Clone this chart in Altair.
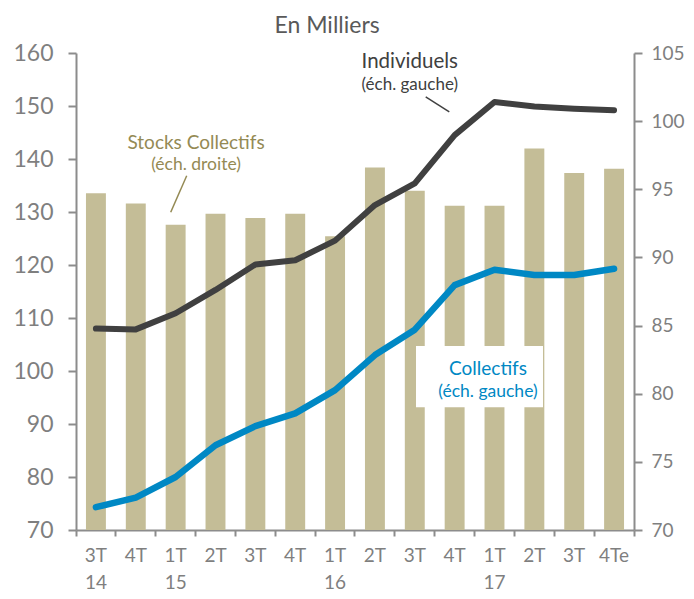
import altair as alt
import pandas as pd

# ---------------- data ----------------
categories = ["3T 14", "4T 14", "1T 15", "2T 15", "3T 15", "4T 15", "1T 16",
              "2T 16", "3T 16", "4T 16", "1T 17", "2T 17", "3T 17", "4Te 17"]
stocks_collectifs = [94.7, 93.95, 92.4, 93.2, 92.9, 93.2, 91.55,
                     96.6, 94.9, 93.8, 93.8, 98.0, 96.2, 96.5]          # right scale
individuels = [108.0, 107.85, 110.9, 115.3, 120.1, 120.9, 124.6,
               131.3, 135.4, 144.5, 150.75, 149.9, 149.5, 149.2]        # left scale
collectifs = [74.3, 76.1, 80.0, 86.0, 89.6, 92.0, 96.4,
              103.0, 107.8, 116.2, 119.1, 118.1, 118.1, 119.3]           # left scale
left_ticks = [70, 80, 90, 100, 110, 120, 130, 140, 150, 160]
right_ticks = [70, 75, 80, 85, 90, 95, 100, 105]
left_domain = [70, 160]
right_domain = [70, 105]

# ---------------- styling ----------------
W, H = 558, 477
FONT = "Lato"
AX_GRAY = "#8c8c8c"
LAB_GRAY = "#7f7f7f"
TAN = "#C4BD97"
OLIVE = "#948A54"
DARK = "#404040"
BLUE = "#0088C4"

df = pd.DataFrame({"cat": categories, "stocks": stocks_collectifs,
                   "ind": individuels, "col": collectifs})

xscale = alt.Scale(type="band", paddingInner=0, paddingOuter=0)
lscale = alt.Scale(domain=left_domain, nice=False, zero=False)
rscale = alt.Scale(domain=right_domain, nice=False, zero=False)

label_expr = ("isValid(datum.value) ? ((split(datum.value, ' ')[0] == '1T' || datum.value == '3T 14') "
              "? split(datum.value, ' ') : split(datum.value, ' ')[0]) : ''")

x_axis = alt.Axis(
    title=None, bandPosition=1, tickExtra=True,
    labelExpr=label_expr, labelAngle=0, labelFont=FONT, labelFontSize=19,
    labelColor=LAB_GRAY, labelLineHeight=27, labelBaseline="top", labelPadding=10,
    domainColor=AX_GRAY, domainWidth=2, tickColor=AX_GRAY, tickWidth=2, tickSize=6,
)

left_axis = alt.Axis(
    orient="left", title=None, values=left_ticks, grid=False,
    labelFont=FONT, labelFontSize=23, labelColor=LAB_GRAY, labelPadding=15,
    domainColor=AX_GRAY, domainWidth=2, tickColor=AX_GRAY, tickWidth=2, tickSize=8)

right_axis = alt.Axis(
    orient="right", title=None, values=right_ticks, grid=False,
    labelFont=FONT, labelFontSize=19, labelColor=LAB_GRAY, labelPadding=9,
    domainColor=AX_GRAY, domainWidth=2, tickColor=AX_GRAY, tickWidth=2, tickSize=8)


def xenc():
    return alt.X("cat:N", sort=categories, scale=xscale, axis=x_axis)


def yl(field):
    return alt.Y(field, scale=lscale, axis=left_axis)


# bars on right scale
bars = alt.Chart(df).mark_bar(width={"band": 0.5}, color=TAN).encode(
    x=xenc(),
    y=alt.Y("stocks:Q", scale=rscale, axis=right_axis),
    y2=alt.datum(70),
)

# white box behind "Collectifs" label
box_df = pd.DataFrame({"y1": [104.7], "y2": [93.15]})
box = alt.Chart(box_df).mark_rect(color="white").encode(
    x=alt.value(340), x2=alt.value(467),
    y=yl("y1:Q"), y2="y2:Q")

line_ind = alt.Chart(df).mark_line(color=DARK, strokeWidth=6, strokeJoin="round",
                                   strokeCap="round").encode(
    x=xenc(), y=yl("ind:Q"))
line_col = alt.Chart(df).mark_line(color=BLUE, strokeWidth=6.5, strokeJoin="round",
                                   strokeCap="round").encode(
    x=xenc(), y=yl("col:Q"))


def label(cat, val, text, color, size, dx=0):
    d = pd.DataFrame({"cat": [cat], "v": [val]})
    return alt.Chart(d).mark_text(text=text, color=color, fontSize=size, font=FONT,
                                  align="center", baseline="alphabetic", dx=dx).encode(
        x=xenc(), y=yl("v:Q"))


def leader(y1, y2, x1, x2, color):
    d = pd.DataFrame({"y1": [y1], "y2": [y2]})
    return alt.Chart(d).mark_rule(color=color, strokeWidth=1.5).encode(
        x=alt.value(x1), x2=alt.value(x2),
        y=yl("y1:Q"), y2="y2:Q")


texts = [
    label("1T 16", 163.7, "En Milliers", "#595959", 23, dx=-8),
    label("3T 16", 157.2, "Individuels", DARK, 20.5, dx=-5),
    label("3T 16", 152.96, "(éch. gauche)", DARK, 17, dx=-5),
    label("1T 15", 141.8, "Stocks Collectifs", OLIVE, 19, dx=20.4),
    label("1T 15", 137.9, "(éch. droite)", OLIVE, 17.5, dx=20.4),
    label("1T 17", 99.2, "Collectifs", BLUE, 19, dx=-6.5),
    label("1T 17", 95.1, "(éch. gauche)", BLUE, 17.5, dx=-6.5),
]
leaders = [
    leader(151.7, 148.9, 349.7, 373.3, DARK),
    leader(136.85, 129.96, 110.7, 94.7, OLIVE),
]

inner = alt.layer(box, line_ind, line_col, *leaders, *texts)

chart = alt.layer(bars, inner).resolve_scale(y="independent").properties(
    width=W, height=H,
    autosize=alt.AutoSizeParams(type="none"),
    padding={"left": 68, "top": 45, "right": 52, "bottom": 61},
).configure_view(stroke=None)

chart.save("out.html", embed_options={"renderer": "svg", "actions": False})
